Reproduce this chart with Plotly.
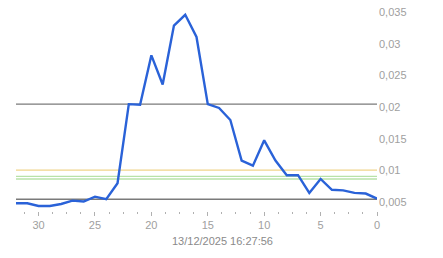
import plotly.graph_objects as go

# Data
x_vals = list(range(32, -1, -1))
y_vals = [0.00437, 0.00437, 0.00394, 0.00394, 0.00426, 0.00478, 0.00465, 0.00541,
          0.0050, 0.00753, 0.0200, 0.0199, 0.0277, 0.0231, 0.0324, 0.0341,
          0.0306, 0.0200, 0.0194, 0.0175, 0.0111, 0.0103, 0.0143, 0.0111,
          0.0088, 0.0088, 0.0060, 0.0082, 0.0065, 0.0064, 0.0060, 0.0059, 0.0051]
gray_levels = [0.02, 0.005]
orange_levels = [0.0096]
green_levels = [0.0086, 0.0082]
title_text = "13/12/2025 16:27:56"

fig = go.Figure()

for lv in gray_levels:
    fig.add_hline(y=lv, line=dict(color="#7a7a7a", width=1.3), layer="below")
for lv in orange_levels:
    fig.add_hline(y=lv, line=dict(color="#f0d48a", width=1.3), layer="below")
for lv in green_levels:
    fig.add_hline(y=lv, line=dict(color="#b8e2a8", width=1.3), layer="below")

fig.add_trace(go.Scatter(x=x_vals, y=y_vals, mode="lines",
                         line=dict(color="#2a62d8", width=2.4),
                         hoverinfo="skip", showlegend=False))

fig.add_annotation(text=title_text, xref="paper", yref="paper",
                   x=0.572, y=0, yshift=-30, xanchor="center", yanchor="middle",
                   showarrow=False, font=dict(family="Liberation Sans, Arial", size=11, color="#8a8a8a"))

fig.update_layout(
    width=443, height=258,
    margin=dict(l=16, r=66, t=0, b=47),
    paper_bgcolor="white", plot_bgcolor="white",
    separators=", ",
    font=dict(family="Liberation Sans, Arial", size=11, color="#a0a0a0"),
    showlegend=False,
    xaxis=dict(range=[32, 0], showgrid=False, zeroline=False, showline=False,
               tickmode="linear", tick0=0, dtick=5,
               ticks="outside", ticklen=4, tickcolor="#b0b0b0", tickwidth=1,
               minor=dict(tickmode="linear", tick0=0, dtick=1.25, ticks="outside",
                          ticklen=2, tickcolor="#b0b0b0", showgrid=False),
               tickfont=dict(size=11, color="#a0a0a0")),
    yaxis=dict(range=[0.00315, 0.03643], side="right", showgrid=False, zeroline=False,
               showline=False, tickmode="linear", tick0=0, dtick=0.005, ticks="",
               ticklabelshift=3, ticklabelstandoff=1,
               tickfont=dict(size=11, color="#a0a0a0")),
)

fig.write_html("out.html")
